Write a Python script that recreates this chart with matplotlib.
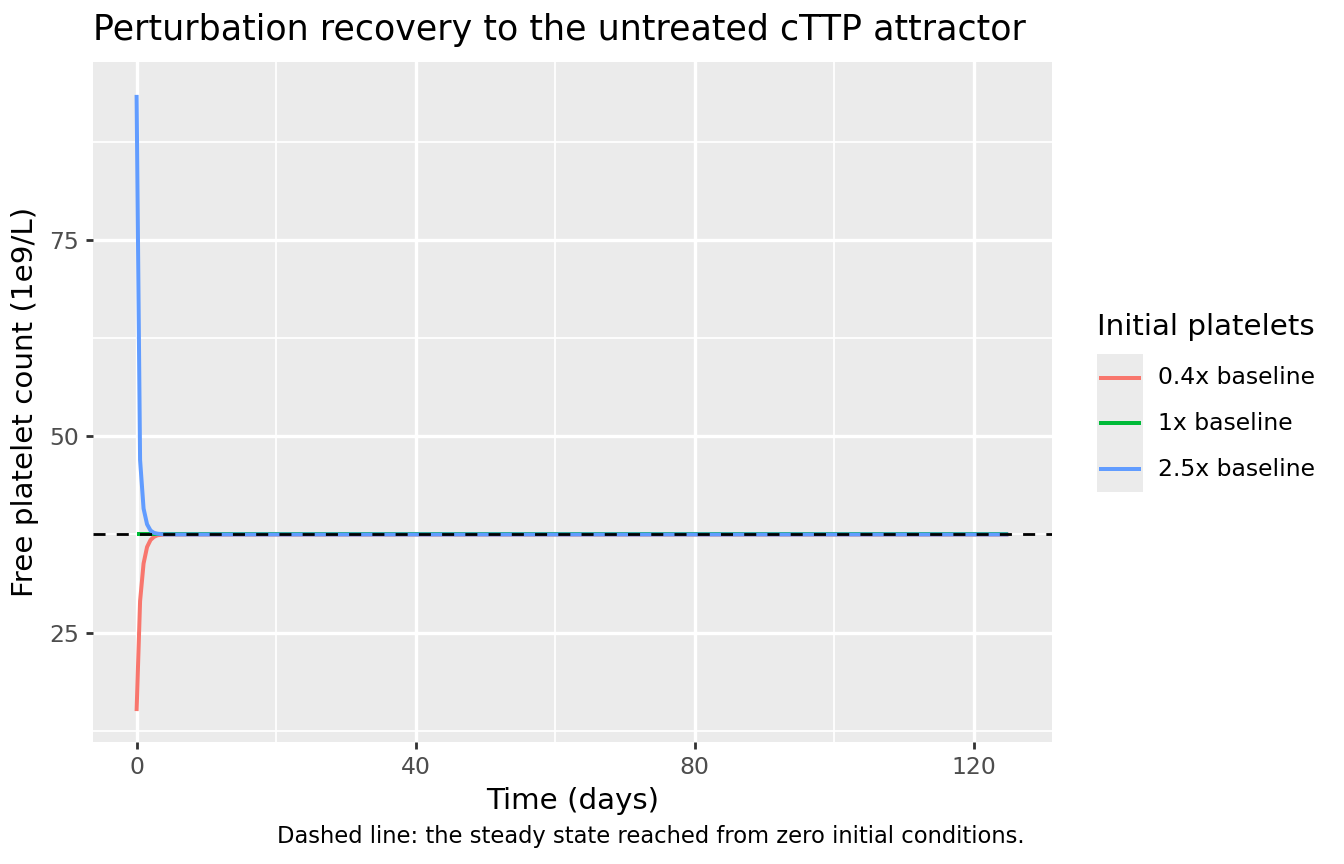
"""
Perturbation recovery plot, ggplot2-like look in matplotlib.
"""
import matplotlib
matplotlib.use('Agg')
import matplotlib.pyplot as plt
from matplotlib.lines import Line2D
from matplotlib.patches import Rectangle

plt.rcParams['font.family'] = ['DejaVu Sans']

# 数据
time_days = [0, 0.5, 1, 1.5, 2, 2.5, 3, 3.5, 4, 5, 10, 25, 50, 75, 100, 125]
low_start = [15.0, 29.0, 33.8, 35.9, 36.8, 37.2, 37.4, 37.45, 37.5, 37.5,
             37.5, 37.5, 37.5, 37.5, 37.5, 37.5]
base_start = [37.5] * len(time_days)
high_start = [93.5, 47.0, 40.8, 38.8, 38.0, 37.7, 37.6, 37.55, 37.5, 37.5,
              37.5, 37.5, 37.5, 37.5, 37.5, 37.5]
steady_state = 37.5

series_labels = ['0.4x baseline', '1x baseline', '2.5x baseline']
series_colors = ['#F8766D', '#00BA38', '#619CFF']
x_ticks = [0, 40, 80, 120]
x_minor = [20, 60, 100]
y_ticks = [25, 50, 75]
y_minor = [12.5, 37.5, 62.5, 87.5]

# ggplot 11pt 基准字号按 192dpi 渲染，这里 144dpi，所以乘 4/3
K = 4 / 3
W, H, DPI = 1344, 864, 144
fig = plt.figure(figsize=(W / DPI, H / DPI), dpi=DPI)
ax = fig.add_axes([93 / W, 1 - 742 / H, (1052 - 93) / W, (742 - 62) / H])
ax.set_facecolor('#EBEBEB')
for s in ax.spines.values():
    s.set_visible(False)

ax.set_xlim(-6.25, 131.25)
ax.set_ylim(11.06, 97.69)
ax.set_xticks(x_ticks)
ax.set_yticks(y_ticks)
for v in x_minor:
    ax.axvline(v, color='white', lw=0.9, zorder=0.5)
for v in y_minor:
    ax.axhline(v, color='white', lw=0.9, zorder=0.5)
ax.grid(True, color='white', lw=1.7, zorder=0.6)
ax.set_axisbelow(True)
ax.tick_params(colors='#333333', labelcolor='#4D4D4D', labelsize=8.8 * K,
               length=3.4, width=1.4, pad=3.5)

for ys, lab, c in zip([low_start, base_start, high_start], series_labels, series_colors):
    ax.plot(time_days, ys, color=c, lw=2.0, label=lab, zorder=2,
            solid_capstyle='butt')
ax.axhline(steady_state, color='black', lw=1.4, dashes=(4.3, 4), zorder=3)

ax.set_xlabel('Time (days)', fontsize=11 * K, labelpad=4)
ax.set_ylabel('Free platelet count (1e9/L)', fontsize=11 * K, labelpad=5)
fig.text(93 / W, 1 - 30 / H, 'Perturbation recovery to the untreated cTTP attractor',
         fontsize=17.45, ha='left', va='center')
fig.text(1025 / W, 1 - 836 / H,
         'Dashed line: the steady state reached from zero initial conditions.',
         fontsize=11.3, ha='right', va='center')

# 图例（手工绘制，模仿 ggplot）
fig.text(1097 / W, 1 - 327 / H, 'Initial platelets', fontsize=11 * K,
         ha='left', va='center')
fig.add_artist(Rectangle((1097 / W, 1 - 492 / H), 46 / W, 138 / H,
                         transform=fig.transFigure, facecolor='#EBEBEB',
                         edgecolor='none'))
for i, (lab, c) in enumerate(zip(series_labels, series_colors)):
    yy = 1 - (378 + i * 45.5) / H
    fig.add_artist(Line2D([1101 / W, 1139 / W], [yy, yy], color=c, lw=2.0,
                          transform=fig.transFigure))
    fig.text(1158 / W, yy, lab, fontsize=8.8 * K, ha='left', va='center')

fig.savefig('out.png', dpi=DPI)
